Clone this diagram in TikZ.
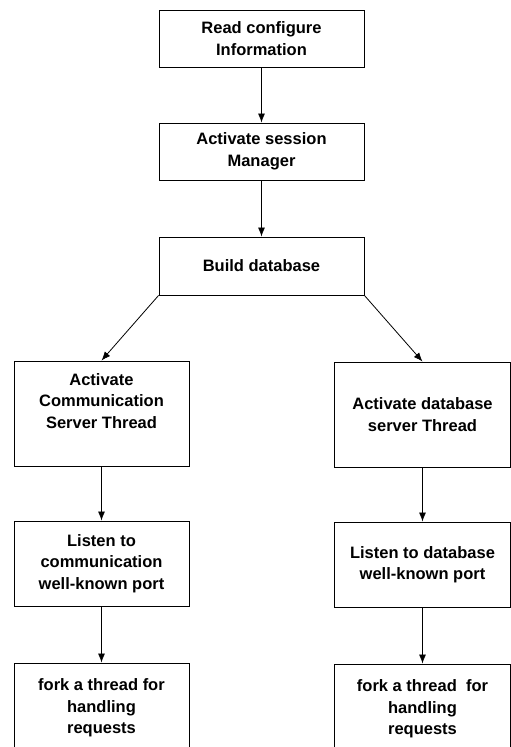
\documentclass[tikz,border=0pt]{standalone}
\usepackage{fontspec}
\setmainfont{Liberation Sans}
\usetikzlibrary{arrows.meta}
\begin{document}
\begin{tikzpicture}[x=1pt,y=-1pt,
  box/.style={draw, line width=0.9pt, inner sep=0pt, align=center,
    font=\fontsize{16.5}{21.5}\selectfont\bfseries},
  arr/.style={line width=0.8pt, -{Latex[length=9pt,width=7pt]}}]
\useasboundingbox (0,0) rectangle (511,747);
\clip (0,0) rectangle (511,747);
\node[box, minimum width=205pt, minimum height=57pt] (b1) at (261.5,38.5) {Read configure\\Information};
\node[box, minimum width=205pt, minimum height=57pt] (b2) at (261.5,151.5) {Activate session\\Manager};
\node[box, minimum width=205pt, minimum height=58pt] (b3) at (261.5,266) {Build database};
\node[box, minimum width=175pt, minimum height=105pt] (b4) at (101.5,413.5) {Activate\\Communication\\Server Thread\\[4pt]};
\node[box, minimum width=176pt, minimum height=105pt] (b5) at (422.5,414.5) {Activate database\\server Thread};
\node[box, minimum width=175pt, minimum height=85pt] (b6) at (101.5,563.5) {Listen to\\communication\\well-known port};
\node[box, minimum width=176pt, minimum height=85pt] (b7) at (422.5,564.5) {Listen to database\\well-known port};
\node[box, minimum width=175pt, minimum height=90pt] (b8) at (101.5,708) {fork a thread for\\handling\\requests};
\node[box, minimum width=176pt, minimum height=90pt] (b9) at (422.5,709) {fork a thread\ \ for\\handling\\requests};
\draw[arr] (b1) -- (b2);
\draw[arr] (b2) -- (b3);
\draw[arr] (b3.south west) -- (b4.north);
\draw[arr] (b3.south east) -- (b5.north);
\draw[arr] (b4) -- (b6);
\draw[arr] (b5) -- (b7);
\draw[arr] (b6) -- (b8);
\draw[arr] (b7) -- (b9);
\end{tikzpicture}
\end{document}
